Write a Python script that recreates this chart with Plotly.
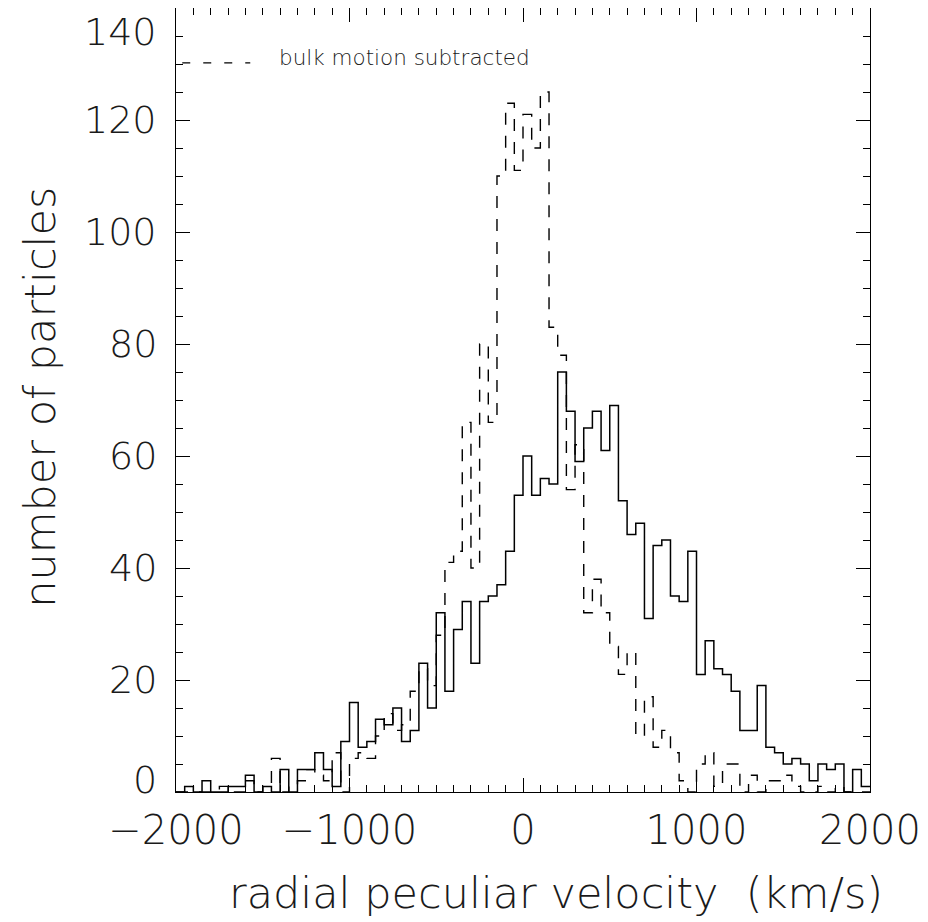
import plotly.graph_objects as go

# ---- data -------------------------------------------------------------
bin_start = -2000
bin_width = 50
n_bins = 80

# total radial peculiar velocity histogram (solid)
counts_total = [
    0, 1, 0, 2, 0, 0, 1, 1, 3, 0,
    1, 0, 4, 0, 4, 4, 7, 4, 1, 9,
    16, 8, 9, 13, 12, 15, 9, 11, 23, 15,
    32, 18, 29, 34, 23, 34, 35, 37, 43, 53,
    60, 53, 56, 55, 75, 68, 59, 65, 68, 61,
    69, 52, 46, 48, 31, 44, 45, 35, 34, 43,
    21, 27, 22, 21, 18, 11, 11, 19, 8, 7,
    5, 6, 5, 2, 5, 4, 5, 0, 4, 1,
]

# bulk motion subtracted histogram (dashed)
counts_bulk = [
    0, 0, 0, 0, 0, 1, 0, 0, 2, 0,
    1, 6, 0, 1, 2, 4, 3, 2, 7, 0,
    6, 7, 6, 10, 14, 11, 12, 18, 22, 19,
    28, 41, 43, 66, 40, 80, 66, 110, 123, 111,
    121, 115, 125, 83, 78, 54, 62, 32, 38, 32,
    26, 21, 25, 10, 17, 8, 11, 7, 2, 0,
    5, 7, 1, 5, 5, 0, 3, 0, 2, 2,
    3, 1, 0, 0, 1, 0, 1, 0, 0, 0,
]

x_tick_vals = [-2000, -1000, 0, 1000, 2000]
x_tick_text = ["\u22122000", "\u22121000", "0", "1000", "2000"]
y_tick_vals = [0, 20, 40, 60, 80, 100, 120, 140]
y_tick_text = ["0", "20", "40", "60", "80", "100", "120", "140"]

legend_label = "bulk motion subtracted"
x_title = "radial peculiar velocity  (km/s)"
y_title = "number of particles"

# ---- figure -------------------------------------------------------------
edges = [bin_start + i * bin_width for i in range(n_bins + 1)]

FONT = "DejaVu Sans"
TXT = "#1a1a1a"
W = 200

fig = go.Figure()
fig.add_trace(go.Scatter(
    x=edges, y=counts_bulk + [counts_bulk[-1]],
    mode="lines", line=dict(shape="hv", color="black", width=1.4, dash="12px,11px"),
    hoverinfo="skip", showlegend=False,
))
fig.add_trace(go.Scatter(
    x=edges, y=counts_total + [counts_total[-1]],
    mode="lines", line=dict(shape="hv", color="black", width=1.5),
    hoverinfo="skip", showlegend=False,
))

axis_common = dict(
    showgrid=False, zeroline=False, showline=True, linecolor="black", linewidth=1.2,
    mirror="allticks", ticks="inside", tickcolor="black", tickwidth=1.2,
    automargin=False,
)

fig.update_xaxes(
    range=[-2000, 2000], tickvals=x_tick_vals, ticktext=x_tick_text,
    ticklen=14,
    minor=dict(dtick=100, ticks="inside", ticklen=7, tickcolor="black", tickwidth=1.2, showgrid=False),
    tickfont=dict(family=FONT, size=40, color=TXT, weight=W),
    ticklabelstandoff=3,
    **axis_common,
)
fig.update_yaxes(
    range=[0, 140], tickvals=y_tick_vals, showticklabels=False,
    ticklen=14,
    minor=dict(dtick=5, ticks="inside", ticklen=7, tickcolor="black", tickwidth=1.2, showgrid=False),
    **axis_common,
)

# y tick labels as annotations (end labels pulled inward as in original)
for v, t in zip(y_tick_vals, y_tick_text):
    if v == y_tick_vals[-1]:
        anchor, shift = "top", 0
    elif v == y_tick_vals[0]:
        anchor, shift = "middle", 12
    else:
        anchor, shift = "middle", 0
    fig.add_annotation(
        x=0, xref="paper", y=v, yref="y", text=t, showarrow=False,
        xanchor="right", yanchor=anchor, xshift=-17, yshift=shift,
        font=dict(family=FONT, size=38, color=TXT, weight=W),
    )

# axis titles
fig.add_annotation(x=0.547, xref="paper", y=-0.1287, yref="paper", text=x_title,
                   showarrow=False, xanchor="center", yanchor="middle",
                   font=dict(family=FONT, size=43, color=TXT, weight=W))
fig.add_annotation(x=-0.196, xref="paper", y=0.504, yref="paper", text=y_title,
                   showarrow=False, xanchor="center", yanchor="middle", textangle=-90,
                   font=dict(family=FONT, size=43, color=TXT, weight=W))

# legend sample
fig.add_shape(type="line", xref="paper", yref="paper", x0=0.009, x1=0.107, y0=0.930, y1=0.930,
              line=dict(color="black", width=1.4, dash="8px,13px"))
fig.add_annotation(x=0.146, xref="paper", y=0.937, yref="paper", text=legend_label,
                   showarrow=False, xanchor="left", yanchor="middle",
                   font=dict(family=FONT, size=21.5, color=TXT, weight=W))

fig.update_layout(
    width=928, height=922,
    margin=dict(l=168, r=66, t=0, b=138),
    paper_bgcolor="white", plot_bgcolor="white",
)

fig.write_html("out.html")
